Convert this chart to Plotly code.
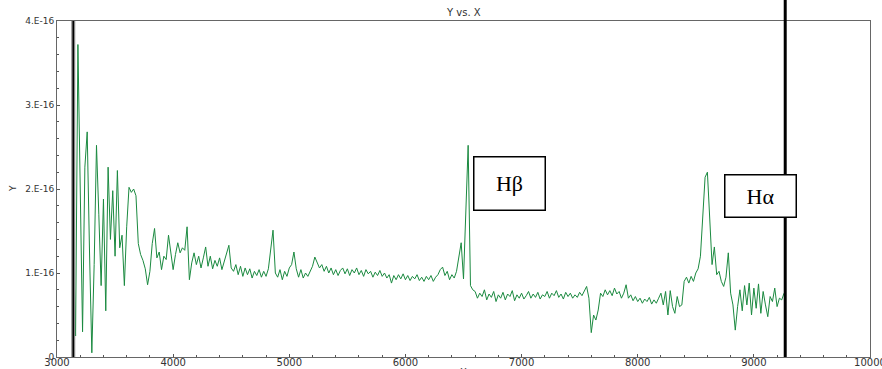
import numpy as np
import plotly.graph_objects as go

# Spectrum sampled every 20 Angstrom, flux in units of 1e-16
WAVE_START = 3140
WAVE_STEP = 20
FLUX_E16 = [
    # 3140 - 3320
    1.50, 0.25, 3.72, 1.90, 0.30, 2.26, 2.68, 1.25, 0.05, 1.10,
    # 3340 - 3520
    2.52, 1.70, 0.85, 1.88, 0.55, 2.26, 1.40, 1.98, 1.20, 2.22,
    # 3540 - 3720
    1.30, 1.45, 0.85, 1.55, 2.02, 1.96, 2.00, 1.92, 1.35, 1.22,
    # 3740 - 3920
    1.15, 1.05, 0.86, 1.02, 1.35, 1.53, 1.18, 1.25, 1.04, 1.20,
    # 3940 - 4120
    1.16, 1.45, 1.25, 1.04, 1.22, 1.36, 1.24, 1.30, 1.27, 1.55,
    # 4140 - 4320
    0.92, 1.12, 1.24, 1.10, 1.20, 1.06, 1.18, 1.31, 1.08, 1.20,
    # 4340 - 4520
    1.05, 1.15, 1.08, 1.18, 1.04, 1.14, 1.22, 1.33, 1.06, 1.02,
    # 4540 - 4720
    1.10, 0.98, 1.08, 0.96, 1.06, 0.98, 1.05, 0.94, 1.02, 0.97,
    # 4740 - 4920
    1.04, 0.95, 1.02, 0.96, 1.05, 1.30, 1.51, 1.00, 0.95, 1.04,
    # 4940 - 5120
    0.92, 1.02, 0.96, 1.06, 1.10, 1.25, 1.05, 0.95, 1.04, 0.94,
    # 5140 - 5320
    1.00, 0.96, 1.02, 1.08, 1.19, 1.12, 1.06, 1.10, 1.02, 1.08,
    # 5340 - 5520
    1.00, 1.06, 0.98, 1.04, 0.97, 1.03, 1.06, 0.99, 1.05, 0.97,
    # 5540 - 5720
    1.04, 1.00, 1.06, 0.98, 1.03, 0.96, 1.04, 0.99, 1.02, 0.95,
    # 5740 - 5920
    1.01, 0.97, 1.03, 0.96, 1.00, 0.94, 0.98, 0.88, 0.97, 0.92,
    # 5940 - 6120
    0.98, 0.93, 0.99, 0.92, 0.97, 0.91, 0.96, 0.93, 0.98, 0.91,
    # 6140 - 6320
    0.95, 0.90, 0.96, 0.92, 0.97, 0.90, 0.95, 0.98, 1.04, 1.07,
    # 6340 - 6520
    0.97, 1.02, 0.92, 0.98, 0.94, 1.02, 1.20, 1.36, 0.93, 1.80,
    # 6540 - 6720
    2.52, 0.85, 0.80, 0.78, 0.70, 0.76, 0.72, 0.80, 0.68, 0.75,
    # 6740 - 6920
    0.71, 0.78, 0.66, 0.74, 0.70, 0.77, 0.68, 0.75, 0.72, 0.79,
    # 6940 - 7120
    0.67, 0.74, 0.70, 0.76, 0.69, 0.73, 0.78, 0.70, 0.75, 0.71,
    # 7140 - 7320
    0.77, 0.69, 0.74, 0.72, 0.78, 0.70, 0.76, 0.73, 0.79, 0.71,
    # 7340 - 7520
    0.75, 0.69, 0.77, 0.72, 0.76, 0.70, 0.74, 0.71, 0.77, 0.73,
    # 7540 - 7720
    0.78, 0.84, 0.70, 0.29, 0.50, 0.44, 0.56, 0.76, 0.72, 0.80,
    # 7740 - 7920
    0.74, 0.79, 0.73, 0.82, 0.75, 0.78, 0.70, 0.76, 0.86, 0.70,
    # 7940 - 8120
    0.74, 0.67, 0.72, 0.66, 0.70, 0.64, 0.69, 0.66, 0.71, 0.63,
    # 8140 - 8320
    0.68, 0.64, 0.70, 0.76, 0.62, 0.78, 0.50, 0.79, 0.60, 0.52,
    # 8340 - 8520
    0.72, 0.60, 0.62, 0.90, 0.95, 0.88, 0.96, 0.90, 1.00, 1.05,
    # 8540 - 8720
    1.20, 1.67, 2.14, 2.20, 1.55, 1.10, 1.31, 0.98, 1.02, 0.90,
    # 8740 - 8920
    0.84, 0.95, 1.24, 0.76, 0.62, 0.32, 0.60, 0.80, 0.55, 0.85,
    # 8940 - 9120
    0.62, 0.88, 0.50, 0.82, 0.58, 0.87, 0.52, 0.78, 0.62, 0.48,
    # 9140 - 9260
    0.72, 0.66, 0.82, 0.60, 0.70, 0.68, 0.76,
]

# Vertical marker lines (Angstrom)
MARKER_LEFT = 3140
MARKER_RIGHT = 9270

# Axis ticks
X_TICKS = [3000, 4000, 5000, 6000, 7000, 8000, 9000, 10000]
X_TICK_TEXT = ["3000", "4000", "5000", "6000", "7000", "8000", "9000", "10000"]
Y_TICKS_E16 = [0, 1, 2, 3, 4]
Y_TICK_TEXT = ["0", "1.E-16", "2.E-16", "3.E-16", "4.E-16"]

# Line labels: (text, wavelength of box centre, flux of box centre in 1e-16, box w, box h)
LINE_LABELS = [
    ("H\u03b2", 6900, 2.06, 70, 52),
    ("H\u03b1", 9055, 1.92, 70, 41),
]

wave = WAVE_START + WAVE_STEP * np.arange(len(FLUX_E16))
flux = np.array(FLUX_E16) * 1e-16

SANS = "DejaVu Sans, Verdana, sans-serif"
Y_FONT = dict(family=SANS, size=9, color="#333333")
X_FONT = dict(family=SANS, size=10, color="#333333")

fig = go.Figure()
fig.add_trace(go.Scatter(
    x=wave, y=flux, mode="lines",
    line=dict(color="#1b8a40", width=1),
    showlegend=False, hoverinfo="skip",
))

# Left marker: grey outline with a dark core
fig.add_shape(type="line", xref="x", yref="paper", x0=MARKER_LEFT, x1=MARKER_LEFT,
              y0=0, y1=1, line=dict(color="#8a8a8a", width=4))
fig.add_shape(type="line", xref="x", yref="paper", x0=MARKER_LEFT, x1=MARKER_LEFT,
              y0=0, y1=1, line=dict(color="#000000", width=1.5))
# Right marker runs up past the frame
fig.add_shape(type="line", xref="x", yref="paper", x0=MARKER_RIGHT, x1=MARKER_RIGHT,
              y0=0, y1=1.07, line=dict(color="#000000", width=3))

for text, lx, ly, w, h in LINE_LABELS:
    fig.add_annotation(
        x=lx, y=ly * 1e-16, xref="x", yref="y", text=text, showarrow=False,
        font=dict(family="Liberation Serif, Times New Roman, serif", size=22, color="#000000"),
        bgcolor="#ffffff", bordercolor="#000000", borderwidth=1.5, borderpad=0,
        width=w, height=h, align="center", valign="middle",
        xanchor="center", yanchor="middle",
    )

fig.add_annotation(text="Y vs. X", xref="paper", yref="paper", x=0.5, y=1.0,
                   yshift=1, xanchor="center", yanchor="bottom", showarrow=False,
                   font=X_FONT)
fig.add_annotation(text="Y", xref="paper", yref="paper", x=0, y=0.5, xshift=-44,
                   xanchor="center", yanchor="middle", textangle=-90, showarrow=False,
                   font=Y_FONT)
fig.add_annotation(text="X", xref="paper", yref="paper", x=0.5, y=0, yshift=-8,
                   xanchor="center", yanchor="top", showarrow=False, font=X_FONT)

fig.update_xaxes(
    range=[3000, 10000], tickmode="array", tickvals=X_TICKS, ticktext=X_TICK_TEXT,
    ticks="inside", ticklen=3, tickcolor="#555555",
    minor=dict(tickmode="linear", tick0=3000, dtick=200, ticks="inside", ticklen=2,
               tickcolor="#555555"),
    showline=True, linecolor="#666666", linewidth=1, mirror=True,
    showgrid=False, zeroline=False, tickfont=X_FONT, automargin=False,
    ticklabelstandoff=-4, ticklabeloverflow="allow",
)
fig.update_yaxes(
    range=[0, 4e-16], tickmode="array", tickvals=[v * 1e-16 for v in Y_TICKS_E16],
    ticktext=Y_TICK_TEXT, ticks="inside", ticklen=3, tickcolor="#555555",
    minor=dict(tickmode="linear", tick0=0, dtick=0.2e-16, ticks="inside", ticklen=2,
               tickcolor="#555555"),
    showline=True, linecolor="#666666", linewidth=1, mirror=True,
    showgrid=False, zeroline=False, tickfont=Y_FONT, automargin=False,
    ticklabeloverflow="allow",
)

fig.update_layout(
    width=882, height=369,
    margin=dict(l=57, r=12, t=21, b=12),
    paper_bgcolor="#ffffff", plot_bgcolor="#ffffff",
    showlegend=False,
)

fig.write_html("out.html")
